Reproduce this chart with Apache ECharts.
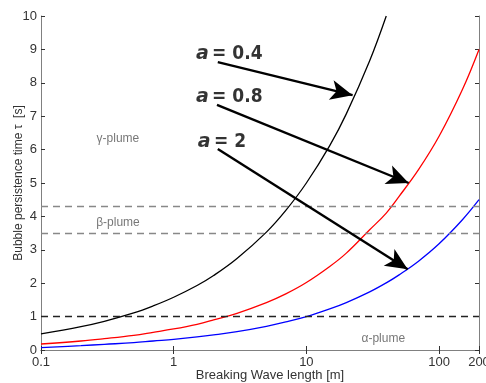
<!DOCTYPE html>
<html><head><meta charset="utf-8">
<script src="https://cdn.jsdelivr.net/npm/echarts@6/dist/echarts.min.js"></script>
<style>html,body{margin:0;padding:0;background:#fff}#c{width:486px;height:383px}</style>
</head><body><div id="c"></div>
<script>
// Data
const xTicks = [0.1, 1, 10, 100, 200];
const yMin = 0, yMax = 10;
const xBlack = [0.1,0.2,0.3,0.5,0.7,1,1.5,2,3,5,7,10,15,20,30,40];
const tauBlack = [0.48,0.7,0.86,1.11,1.32,1.58,1.93,2.23,2.74,3.53,4.18,5.0,6.12,7.07,8.66,10.0];
const xRed = [0.1,0.2,0.3,0.5,0.7,1,1.5,2,3,5,7,10,15,20,30,40,50,70,100,150,200];
const tauRed = [0.18,0.27,0.34,0.44,0.53,0.63,0.77,0.9,1.1,1.42,1.68,2.02,2.5,2.9,3.6,4.1,4.6,5.4,6.4,7.8,9.0];
const xBlue = [0.1,0.2,0.3,0.5,0.7,1,1.5,2,3,5,7,10,15,20,30,40,50,70,100,150,200];
const tauBlue = [0.07,0.13,0.17,0.22,0.27,0.32,0.39,0.45,0.55,0.71,0.84,1.0,1.23,1.42,1.74,2.01,2.25,2.66,3.18,3.9,4.5];
const alphaLimit = 1.0;
const betaLimits = [3.5, 4.3];
const plumeNames = ['γ-plume', 'β-plume', 'α-plume'];
const plumeAt = [[0.38, 6.32], [0.38, 3.8], [38, 0.34]];
const aLabels = ['0.4', '0.8', '2'];
const aTextAt = [[1.47, 8.86], [1.47, 7.57], [1.52, 6.23]];
const arrowFrom = [[2.15, 8.62], [2.12, 7.34], [2.15, 6.02]];
const arrowTo = [[22.3, 7.63], [59, 5.0], [58, 2.42]];

const zip = (a, b) => a.map((v, i) => [v, b[i]]);
const font = "'Liberation Sans', Arial, Helvetica, sans-serif";
const axisGrey = '#808080';

const chart = echarts.init(document.getElementById('c'));
const curve = (name, xs, ys, color) => ({
  name, type: 'line', data: zip(xs, ys), smooth: 0.4, symbol: 'none',
  lineStyle: { color, width: 1.3 }, silent: true, z: 3
});

chart.setOption({
  animation: false,
  grid: { left: 41, right: 7, top: 16, bottom: 33, containLabel: false, outerBoundsMode: 'none' },
  xAxis: [{
    type: 'log', logBase: 10, min: xTicks[0], max: xTicks[xTicks.length - 1],
    name: 'Breaking Wave length [m]', nameLocation: 'middle', nameGap: 19, nameMoveOverlap: false,
    nameTextStyle: { fontFamily: font, fontSize: 13, color: '#333', padding: [0, 0, 0, 20] },
    axisLine: { lineStyle: { color: axisGrey, width: 1 } },
    axisTick: { inside: true, length: 4, lineStyle: { color: '#333' } },
    minorTick: { show: false },
    splitLine: { show: false },
    axisLabel: { fontFamily: font, fontSize: 13, color: '#333', margin: 6,
      formatter: v => String(+v.toPrecision(3)) }
  }, {
    type: 'log', logBase: 10, min: xTicks[0], max: xTicks[xTicks.length - 1], position: 'top',
    axisLine: { show: true, lineStyle: { color: axisGrey, width: 1 } },
    axisTick: { show: true, inside: true, length: 4, lineStyle: { color: '#333' } },
    axisLabel: { show: false }, splitLine: { show: false }
  }],
  yAxis: [{
    type: 'value', min: yMin, max: yMax, interval: 1,
    name: 'Bubble persistence time τ  [s]', nameLocation: 'middle', nameGap: 16, nameMoveOverlap: false,
    nameTextStyle: { fontFamily: font, fontSize: 12, color: '#333' },
    axisLine: { show: true, lineStyle: { color: axisGrey, width: 1 } },
    axisTick: { show: true, inside: true, length: 4, lineStyle: { color: '#333' } },
    splitLine: { show: false },
    axisLabel: { fontFamily: font, fontSize: 13, color: '#333', margin: 4 }
  }, {
    type: 'value', min: yMin, max: yMax, interval: 1, position: 'right',
    axisLine: { show: true, lineStyle: { color: axisGrey, width: 1 } },
    axisTick: { show: true, inside: true, length: 4, lineStyle: { color: '#333' } },
    splitLine: { show: false }, axisLabel: { show: false }
  }],
  series: [
    curve('a=0.4', xBlack, tauBlack, '#000000'),
    curve('a=0.8', xRed, tauRed, '#ff0000'),
    curve('a=2', xBlue, tauBlue, '#0000ff'),
    {
      type: 'line', data: [], silent: true,
      markLine: {
        silent: true, symbol: 'none', label: { show: false }, animation: false,
        data: [
          { yAxis: alphaLimit, lineStyle: { color: '#222', type: [7, 5], width: 1.3 } },
          { yAxis: betaLimits[0], lineStyle: { color: '#888', type: [7, 5], width: 1.3 } },
          { yAxis: betaLimits[1], lineStyle: { color: '#888', type: [7, 5], width: 1.3 } }
        ]
      }
    },
    {
      type: 'line', data: [], silent: true, z: 5,
      markLine: {
        silent: true, symbol: ['none', 'arrow'], symbolSize: [15, 22], label: { show: false },
        lineStyle: { color: '#000', type: 'solid', width: 2.4 },
        data: arrowFrom.map((f, i) => [{ coord: f }, { coord: arrowTo[i] }])
      }
    },
    {
      type: 'scatter', symbolSize: 0, silent: true, z: 6,
      data: plumeAt.map((p, i) => ({ value: p, name: plumeNames[i] })),
      label: { show: true, position: 'inside', formatter: p => p.name,
        fontFamily: font, fontSize: 12, color: '#555' }
    },
    {
      type: 'scatter', symbolSize: 0, silent: true, z: 6,
      data: aTextAt.map((p, i) => ({ value: p, name: aLabels[i] })),
      label: { show: true, position: 'right', distance: 0,
        formatter: p => '{i|a} {n|= ' + p.name + '}',
        rich: {
          i: { fontFamily: "'DejaVu Sans', sans-serif", fontStyle: 'italic', fontWeight: 'bold', fontSize: 19, color: '#000' },
          n: { fontFamily: "'DejaVu Sans Condensed', 'Liberation Sans Narrow', sans-serif", fontWeight: 'bold', fontSize: 19, color: '#000' }
        } }
    }
  ]
});
</script></body></html>
